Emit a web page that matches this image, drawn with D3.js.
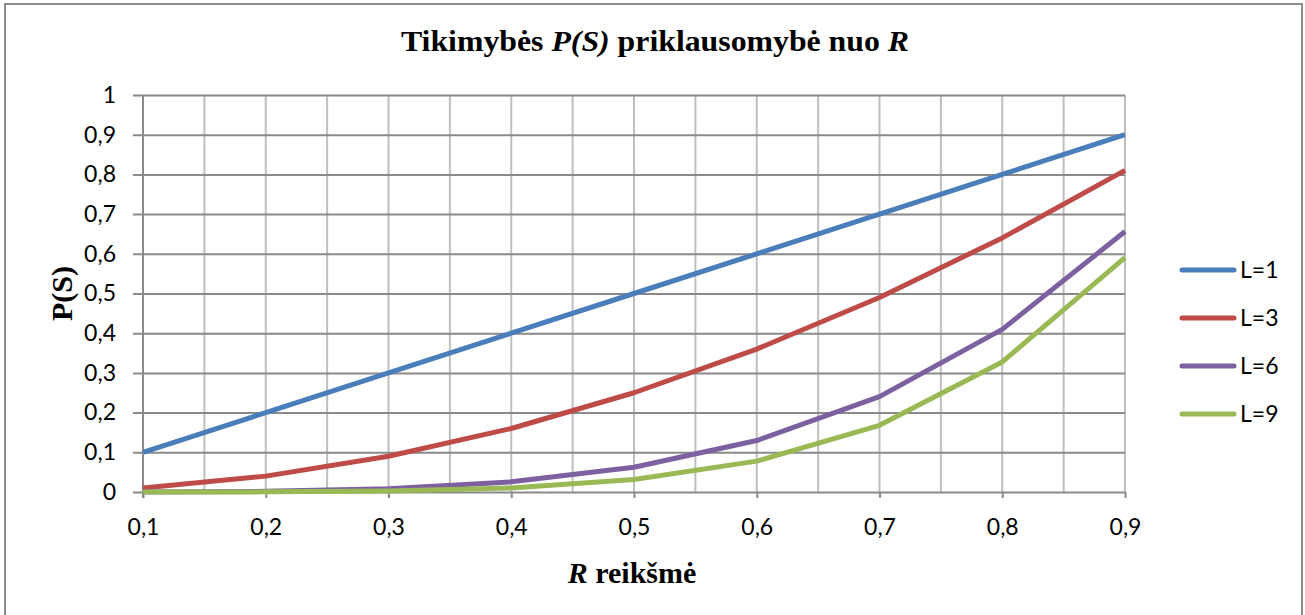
<!DOCTYPE html>
<html>
<head>
<meta charset="utf-8">
<script src="https://cdn.jsdelivr.net/npm/d3@7"></script>
<style>
  html, body { margin: 0; padding: 0; background: #fff; }
  svg { display: block; }
</style>
</head>
<body>
<svg id="chart" width="1305" height="615"></svg>
<script>
// R values along the category axis
const categories = [0.1, 0.2, 0.3, 0.4, 0.5, 0.6, 0.7, 0.8, 0.9];
// P(S) for each L
const seriesL1 = [0.1, 0.2, 0.3, 0.4, 0.5, 0.6, 0.7, 0.8, 0.9];
const seriesL3 = [0.01, 0.04, 0.09, 0.16, 0.25, 0.36, 0.49, 0.64, 0.81];
const seriesL6 = [0.0001, 0.0016, 0.0081, 0.0256, 0.0625, 0.1296, 0.2401, 0.4096, 0.6561];
const seriesL9 = [0.00001, 0.00032, 0.00243, 0.01024, 0.03125, 0.07776, 0.16807, 0.32768, 0.59049];
const seriesNames = ["L=1", "L=3", "L=6", "L=9"];
const yTicks = [0, 0.1, 0.2, 0.3, 0.4, 0.5, 0.6, 0.7, 0.8, 0.9, 1];
const minorX = [0.15, 0.2, 0.25, 0.3, 0.35, 0.4, 0.45, 0.5, 0.55, 0.6, 0.65, 0.7, 0.75, 0.8, 0.85, 0.9];

const colors = ["#4a7ebb", "#be4b48", "#7d60a0", "#98b954"];
const series = [seriesL1, seriesL3, seriesL6, seriesL9];

const svg = d3.select("#chart");
const fmt = v => String(v).replace(".", ",");
const labelFont = "Lato, 'Open Sans', sans-serif";
const titleFont = "'Liberation Serif', 'Times New Roman', serif";

// chart border
svg.append("rect")
  .attr("x", 5).attr("y", 4).attr("width", 1297).attr("height", 620)
  .attr("fill", "none").attr("stroke", "#8c8c8c").attr("stroke-width", 2);

const plot = { left: 143, right: 1125, top: 95, bottom: 492 };
const x = d3.scaleLinear().domain([0.1, 0.9]).range([plot.left, plot.right]);
const y = d3.scaleLinear().domain([0, 1]).range([plot.bottom, plot.top]);

// vertical gridlines
svg.append("g").selectAll("line").data(minorX).join("line")
  .attr("x1", d => x(d)).attr("x2", d => x(d))
  .attr("y1", plot.top).attr("y2", plot.bottom)
  .attr("stroke", "#bfbfbf").attr("stroke-width", 2);

// horizontal gridlines via the y axis
const yAxis = d3.axisLeft(y).tickValues(yTicks).tickFormat(fmt)
  .tickSize(-(plot.right - plot.left)).tickPadding(0);
const gy = svg.append("g").attr("transform", `translate(${plot.left},0)`).call(yAxis);
gy.select(".domain").remove();
gy.selectAll(".tick line")
  .attr("x1", -10)
  .attr("stroke", "#8a8a8a").attr("stroke-width", 2);
gy.selectAll(".tick text")
  .attr("x", -27)
  .attr("font-family", labelFont)
  .attr("font-size", 23).attr("fill", "#000");

// y axis line
svg.append("line")
  .attr("x1", plot.left).attr("x2", plot.left)
  .attr("y1", plot.top).attr("y2", plot.bottom + 6)
  .attr("stroke", "#8a8a8a").attr("stroke-width", 2);

// x axis with ticks below
const xAxis = d3.axisBottom(x).tickValues(categories).tickFormat(fmt)
  .tickSize(6).tickPadding(0);
const gx = svg.append("g").attr("transform", `translate(0,${plot.bottom})`).call(xAxis);
gx.select(".domain").remove();
gx.selectAll(".tick line").attr("stroke", "#8a8a8a").attr("stroke-width", 2);
gx.selectAll(".tick text")
  .attr("y", 43).attr("dy", 0)
  .attr("font-family", labelFont)
  .attr("font-size", 23).attr("fill", "#000");

// series lines
const line = d3.line().x((d, i) => x(categories[i])).y(d => y(d));
svg.append("g").selectAll("path").data(series).join("path")
  .attr("d", d => line(d))
  .attr("fill", "none")
  .attr("stroke", (d, i) => colors[i])
  .attr("stroke-width", 5)
  .attr("stroke-linejoin", "round");

// legend
const legend = svg.append("g");
const legY = d3.scaleLinear().domain([0, 3]).range([270, 414]);
seriesNames.forEach((name, i) => {
  legend.append("line")
    .attr("x1", 1182).attr("x2", 1234)
    .attr("y1", legY(i)).attr("y2", legY(i))
    .attr("stroke", colors[i]).attr("stroke-width", 5)
    .attr("stroke-linecap", "round");
  legend.append("text")
    .attr("x", 1240).attr("y", legY(i)).attr("dy", "0.36em")
    .attr("font-family", labelFont)
    .attr("font-size", 23).attr("fill", "#000")
    .text(name);
});

// title
const title = svg.append("text")
  .attr("x", 655).attr("y", 51)
  .attr("text-anchor", "middle")
  .attr("textLength", 508).attr("lengthAdjust", "spacingAndGlyphs")
  .attr("font-family", titleFont)
  .attr("font-size", 30).attr("font-weight", "bold").attr("fill", "#000");
title.append("tspan").text("Tikimybės ");
title.append("tspan").attr("font-style", "italic").text("P(S)");
title.append("tspan").text(" priklausomybė nuo ");
title.append("tspan").attr("font-style", "italic").text("R");

// y axis title
svg.append("text")
  .attr("transform", `translate(72,${(plot.top + plot.bottom) / 2}) rotate(-90)`)
  .attr("text-anchor", "middle")
  .attr("font-family", titleFont)
  .attr("font-size", 30).attr("font-weight", "bold").attr("fill", "#000")
  .text("P(S)");

// x axis title
const xt = svg.append("text")
  .attr("x", 632).attr("y", 583)
  .attr("text-anchor", "middle")
  .attr("font-family", titleFont)
  .attr("font-size", 30).attr("font-weight", "bold").attr("fill", "#000");
xt.append("tspan").attr("font-style", "italic").text("R");
xt.append("tspan").text(" reikšmė");
</script>
</body>
</html>
